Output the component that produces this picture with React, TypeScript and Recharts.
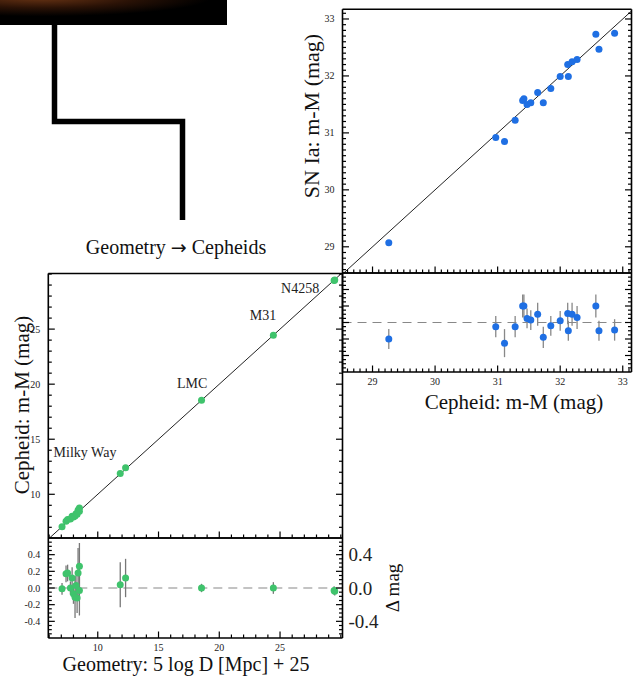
import React from "react"
import { ScatterChart, Scatter, XAxis, YAxis, ErrorBar, ReferenceLine } from "recharts"

const SERIF = '"Liberation Serif", "DejaVu Serif", serif'

// SN Ia hosts: Cepheid distance vs SN Ia distance
const hostCepheid = [29.26, 30.97, 31.11, 31.28, 31.40, 31.42, 31.47, 31.53, 31.64, 31.73, 31.85, 32.0, 32.12, 32.13, 32.19, 32.27, 32.57, 32.62, 32.87]
const hostSN = [29.07, 30.92, 30.85, 31.22, 31.57, 31.60, 31.50, 31.53, 31.71, 31.53, 31.78, 31.99, 32.20, 31.99, 32.25, 32.29, 32.73, 32.47, 32.75]
const hostResid = [-0.20, -0.05, -0.25, -0.05, 0.20, 0.20, 0.05, 0.03, 0.10, -0.18, -0.04, 0.02, 0.11, -0.10, 0.10, 0.06, 0.20, -0.10, -0.09]
const hostResidErr = [0.12, 0.13, 0.17, 0.13, 0.14, 0.14, 0.12, 0.12, 0.14, 0.13, 0.12, 0.12, 0.13, 0.12, 0.14, 0.14, 0.14, 0.12, 0.13]

// anchors: geometric distance vs Cepheid distance
const geoDist = [7.06, 7.39, 7.52, 7.75, 7.89, 8.0, 8.13, 8.21, 8.3, 8.38, 8.49, 8.49, 11.85, 12.29, 18.54, 24.45, 29.45, 29.5]
const cephDist = [7.05, 7.56, 7.70, 7.75, 8.01, 7.93, 8.02, 8.24, 8.18, 8.56, 8.75, 8.46, 11.89, 12.41, 18.54, 24.45, 29.42, 29.47]
const geoResid = [-0.01, 0.17, 0.18, 0.0, 0.12, -0.07, -0.11, 0.03, -0.12, 0.18, 0.26, -0.03, 0.04, 0.12, 0.0, 0.0, -0.03, -0.04]
const geoResidErr = [0.07, 0.1, 0.1, 0.08, 0.13, 0.12, 0.25, 0.12, 0.18, 0.3, 0.28, 0.3, 0.27, 0.23, 0.05, 0.07, 0.05, 0.05]

const anchorNames = ["N4258", "M31", "LMC", "Milky Way"]
const anchorLabelX = [26.65, 23.6, 17.76, 8.95]
const anchorLabelY = [28.73, 26.3, 20.1, 13.82]

const hostMajor = [29, 30, 31, 32, 33]
const geoMajor = [10, 15, 20, 25]
const residMajor = [-0.4, -0.2, 0, 0.2, 0.4]
const residRightLabels = [-0.4, 0, 0.4]

const BLUE = "#1f6fe3"
const GREEN = "#3fc36c"

const steps = (lo: number, hi: number, step: number) => {
  const out: number[] = []
  for (let i = Math.round(lo / step); i * step <= hi + 1e-9; i++) out.push(+(i * step).toFixed(3))
  return out
}

type Side = "top" | "bottom" | "left" | "right"

// inward tick marks drawn at the frame edge, label outside (major only)
const edgeTick =
  (side: Side, majors: number[], labels: number[] = [], fontSize = 10, gap = 8, fmt = (v: number) => `${v}`) =>
  (props: any) => {
    const { x, y, payload } = props
    const v = payload.value
    const isMajor = majors.some((m) => Math.abs(m - v) < 1e-6)
    const len = isMajor ? 6.5 : 3.5
    let x2 = x
    let y2 = y
    if (side === "bottom") y2 = y - len
    if (side === "top") y2 = y + len
    if (side === "left") x2 = x + len
    if (side === "right") x2 = x - len
    const showLabel = labels.some((m) => Math.abs(m - v) < 1e-6)
    let label = null
    if (showLabel) {
      const common = { fontFamily: SERIF, fontSize, fill: "#222" }
      if (side === "bottom")
        label = <text x={x} y={y + gap + fontSize * 0.7} textAnchor="middle" {...common}>{fmt(v)}</text>
      if (side === "left")
        label = <text x={x - gap} y={y + fontSize * 0.35} textAnchor="end" {...common}>{fmt(v)}</text>
      if (side === "right")
        label = <text x={x + gap} y={y + fontSize * 0.35} textAnchor="start" {...common}>{fmt(v)}</text>
    }
    return (
      <g>
        <line x1={x} y1={y} x2={x2} y2={y2} stroke="#000" strokeWidth={1.2} />
        {label}
      </g>
    )
  }

const dot = (color: string) => (p: any) => <circle cx={p.cx} cy={p.cy} r={3.5} fill={color} />

const axisLine = { stroke: "#000", strokeWidth: 1.6 }
const fix1 = (v: number) => v.toFixed(1)

const hostData = hostCepheid.map((x, i) => ({ x, y: hostSN[i] }))
const hostResidData = hostCepheid.map((x, i) => ({ x, y: hostResid[i], err: hostResidErr[i] }))
const geoData = geoDist.map((x, i) => ({ x, y: cephDist[i] }))
const geoResidData = geoDist.map((x, i) => ({ x, y: geoResid[i], err: geoResidErr[i] }))
const anchorData = anchorNames.map((name, i) => ({ x: anchorLabelX[i], y: anchorLabelY[i], name }))

const hostDomX: [number, number] = [28.52, 33.14]
const hostDomY: [number, number] = [28.54, 33.17]
const geoDomX: [number, number] = [5.93, 30.14]
const geoDomY: [number, number] = [6.03, 30.05]
const residDom: [number, number] = [-0.6, 0.6]

const hostTicks = steps(28.6, 33.1, 0.1)
const geoTicksX = steps(6, 30, 1)
const geoTicksY = steps(7, 30, 1)
const residTicks = steps(-0.55, 0.55, 0.05)

const tickAxisProps = { tickLine: false, tickSize: 0, tickMargin: 0, interval: 0 as const, allowDataOverflow: true, type: "number" as const, axisLine }

function Frame(props: {
  xDom: [number, number]
  yDom: [number, number]
  xTicks: number[]
  yTicks: number[]
  xMajor: number[]
  yMajor: number[]
  xLabels?: number[]
  yLabels?: number[]
  yRightLabels?: number[]
  leftW: number
  rightW: number
  bottomH: number
  yFmt?: (v: number) => string
  rightFont?: number
}) {
  const { xDom, yDom, xTicks, yTicks, xMajor, yMajor } = props
  return [
    <XAxis key="xb" xAxisId="b" dataKey="x" orientation="bottom" height={props.bottomH} domain={xDom} ticks={xTicks}
      tick={edgeTick("bottom", xMajor, props.xLabels ?? [], 10, 6)} {...tickAxisProps} />,
    <XAxis key="xt" xAxisId="t" orientation="top" height={1} domain={xDom} ticks={xTicks}
      tick={edgeTick("top", xMajor)} {...tickAxisProps} />,
    <YAxis key="yl" yAxisId="l" dataKey="y" orientation="left" width={props.leftW} domain={yDom} ticks={yTicks}
      tick={edgeTick("left", yMajor, props.yLabels ?? [], 10, 8, props.yFmt)} {...tickAxisProps} />,
    <YAxis key="yr" yAxisId="r" orientation="right" width={props.rightW} domain={yDom} ticks={yTicks}
      tick={edgeTick("right", yMajor, props.yRightLabels ?? [], props.rightFont ?? 10, 6, props.yFmt)} {...tickAxisProps} />,
  ]
}

export default function App() {
  return (
    <div style={{ position: "absolute", left: 0, top: 0, width: 634, height: 681, background: "#fff", overflow: "hidden" }}>
      <svg width={634} height={681} style={{ position: "absolute", left: 0, top: 0 }}>
        <defs>
          <radialGradient id="glow" cx="0.18" cy="-0.1" r="0.75">
            <stop offset="0" stopColor="#6a3414" />
            <stop offset="0.55" stopColor="#2a1206" />
            <stop offset="1" stopColor="#000" />
          </radialGradient>
        </defs>
        <rect x={0} y={0} width={227} height={25} fill="url(#glow)" />
        <polyline points="54.5,24 54.5,121.5 182.5,121.5 182.5,220" fill="none" stroke="#000" strokeWidth={5.5} />
        <text x={176} y={254} textAnchor="middle" fontFamily={SERIF} fontSize={20} fill="#111">
          Geometry <tspan fontFamily='"DejaVu Sans", sans-serif' fontSize={19}>→</tspan> Cepheids
        </text>
        <text transform="translate(319,116) rotate(-90)" textAnchor="middle" fontFamily={SERIF} fontSize={22} fill="#111">SN Ia: m-M (mag)</text>
        <text x={514} y={409} textAnchor="middle" fontFamily={SERIF} fontSize={21} fill="#111">Cepheid: m-M (mag)</text>
        <text transform="translate(29,405) rotate(-90)" textAnchor="middle" fontFamily={SERIF} fontSize={21} fill="#111">Cepheid: m-M (mag)</text>
        <text x={186} y={671} textAnchor="middle" fontFamily={SERIF} fontSize={20} fill="#111">Geometry: 5 log D [Mpc] + 25</text>
        <text transform="translate(399,588) rotate(-90)" textAnchor="middle" fontFamily={SERIF} fontSize={19} fill="#111">Δ mag</text>
      </svg>

      {/* top right: SN Ia vs Cepheid */}
      <div style={{ position: "absolute", left: 300, top: 0 }}>
        <ScatterChart width={334} height={274} margin={{ top: 8.3, right: 1.5, bottom: 0, left: 0 }}>
          {Frame({ xDom: hostDomX, yDom: hostDomY, xTicks: hostTicks, yTicks: hostTicks, xMajor: hostMajor, yMajor: hostMajor, yLabels: hostMajor, leftW: 42.5, rightW: 1, bottomH: 1 })}
          <ReferenceLine xAxisId="b" yAxisId="l" segment={[{ x: 28, y: 28 }, { x: 34, y: 34 }]} stroke="#222" strokeWidth={1} ifOverflow="hidden" />
          <Scatter xAxisId="b" yAxisId="l" data={hostData} shape={dot(BLUE)} isAnimationActive={false} />
        </ScatterChart>
      </div>

      {/* top right residuals */}
      <div style={{ position: "absolute", left: 330, top: 263 }}>
        <ScatterChart width={304} height={132} margin={{ top: 9, right: 1.5, bottom: 0, left: 0 }}>
          {Frame({ xDom: hostDomX, yDom: residDom, xTicks: hostTicks, yTicks: residTicks, xMajor: hostMajor, yMajor: residMajor, xLabels: hostMajor, leftW: 12.5, rightW: 1, bottomH: 23 })}
          <ReferenceLine xAxisId="b" yAxisId="l" y={0} stroke="#888" strokeDasharray="9 6" strokeWidth={1.2} />
          <Scatter xAxisId="b" yAxisId="l" data={hostResidData} shape={dot(BLUE)} isAnimationActive={false}>
            <ErrorBar dataKey="err" direction="y" width={0} stroke="#888" strokeWidth={1.3} />
          </Scatter>
        </ScatterChart>
      </div>

      {/* bottom left: Cepheid vs geometry */}
      <div style={{ position: "absolute", left: 0, top: 263 }}>
        <ScatterChart width={360} height={285} margin={{ top: 9.5, right: 16.5, bottom: 9, left: 0 }}>
          {Frame({ xDom: geoDomX, yDom: geoDomY, xTicks: geoTicksX, yTicks: geoTicksY, xMajor: geoMajor, yMajor: geoMajor, yLabels: geoMajor, leftW: 48.3, rightW: 1, bottomH: 1 })}
          <ReferenceLine xAxisId="b" yAxisId="l" segment={[{ x: 5, y: 5 }, { x: 31, y: 31 }]} stroke="#222" strokeWidth={1} ifOverflow="hidden" />
          <Scatter xAxisId="b" yAxisId="l" data={geoData} shape={dot(GREEN)} isAnimationActive={false} />
          <Scatter xAxisId="b" yAxisId="l" data={anchorData} isAnimationActive={false}
            shape={(p: any) => (
              <text x={p.cx} y={p.cy + 5} textAnchor="middle" fontFamily={SERIF} fontSize={14} fill="#222">{p.payload?.name}</text>
            )} />
        </ScatterChart>
      </div>

      {/* bottom left residuals */}
      <div style={{ position: "absolute", left: 0, top: 528 }}>
        <ScatterChart width={420} height={153} margin={{ top: 9, right: 0, bottom: 0, left: 0 }}>
          {Frame({ xDom: geoDomX, yDom: residDom, xTicks: geoTicksX, yTicks: residTicks, xMajor: geoMajor, yMajor: residMajor, xLabels: geoMajor, yLabels: residMajor, yRightLabels: residRightLabels, leftW: 48.3, rightW: 77.5, bottomH: 43, yFmt: fix1, rightFont: 19 })}
          <ReferenceLine xAxisId="b" yAxisId="l" y={0} stroke="#888" strokeDasharray="9 6" strokeWidth={1.2} />
          <Scatter xAxisId="b" yAxisId="l" data={geoResidData} shape={dot(GREEN)} isAnimationActive={false}>
            <ErrorBar dataKey="err" direction="y" width={0} stroke="#777" strokeWidth={1.3} />
          </Scatter>
        </ScatterChart>
      </div>
    </div>
  )
}
